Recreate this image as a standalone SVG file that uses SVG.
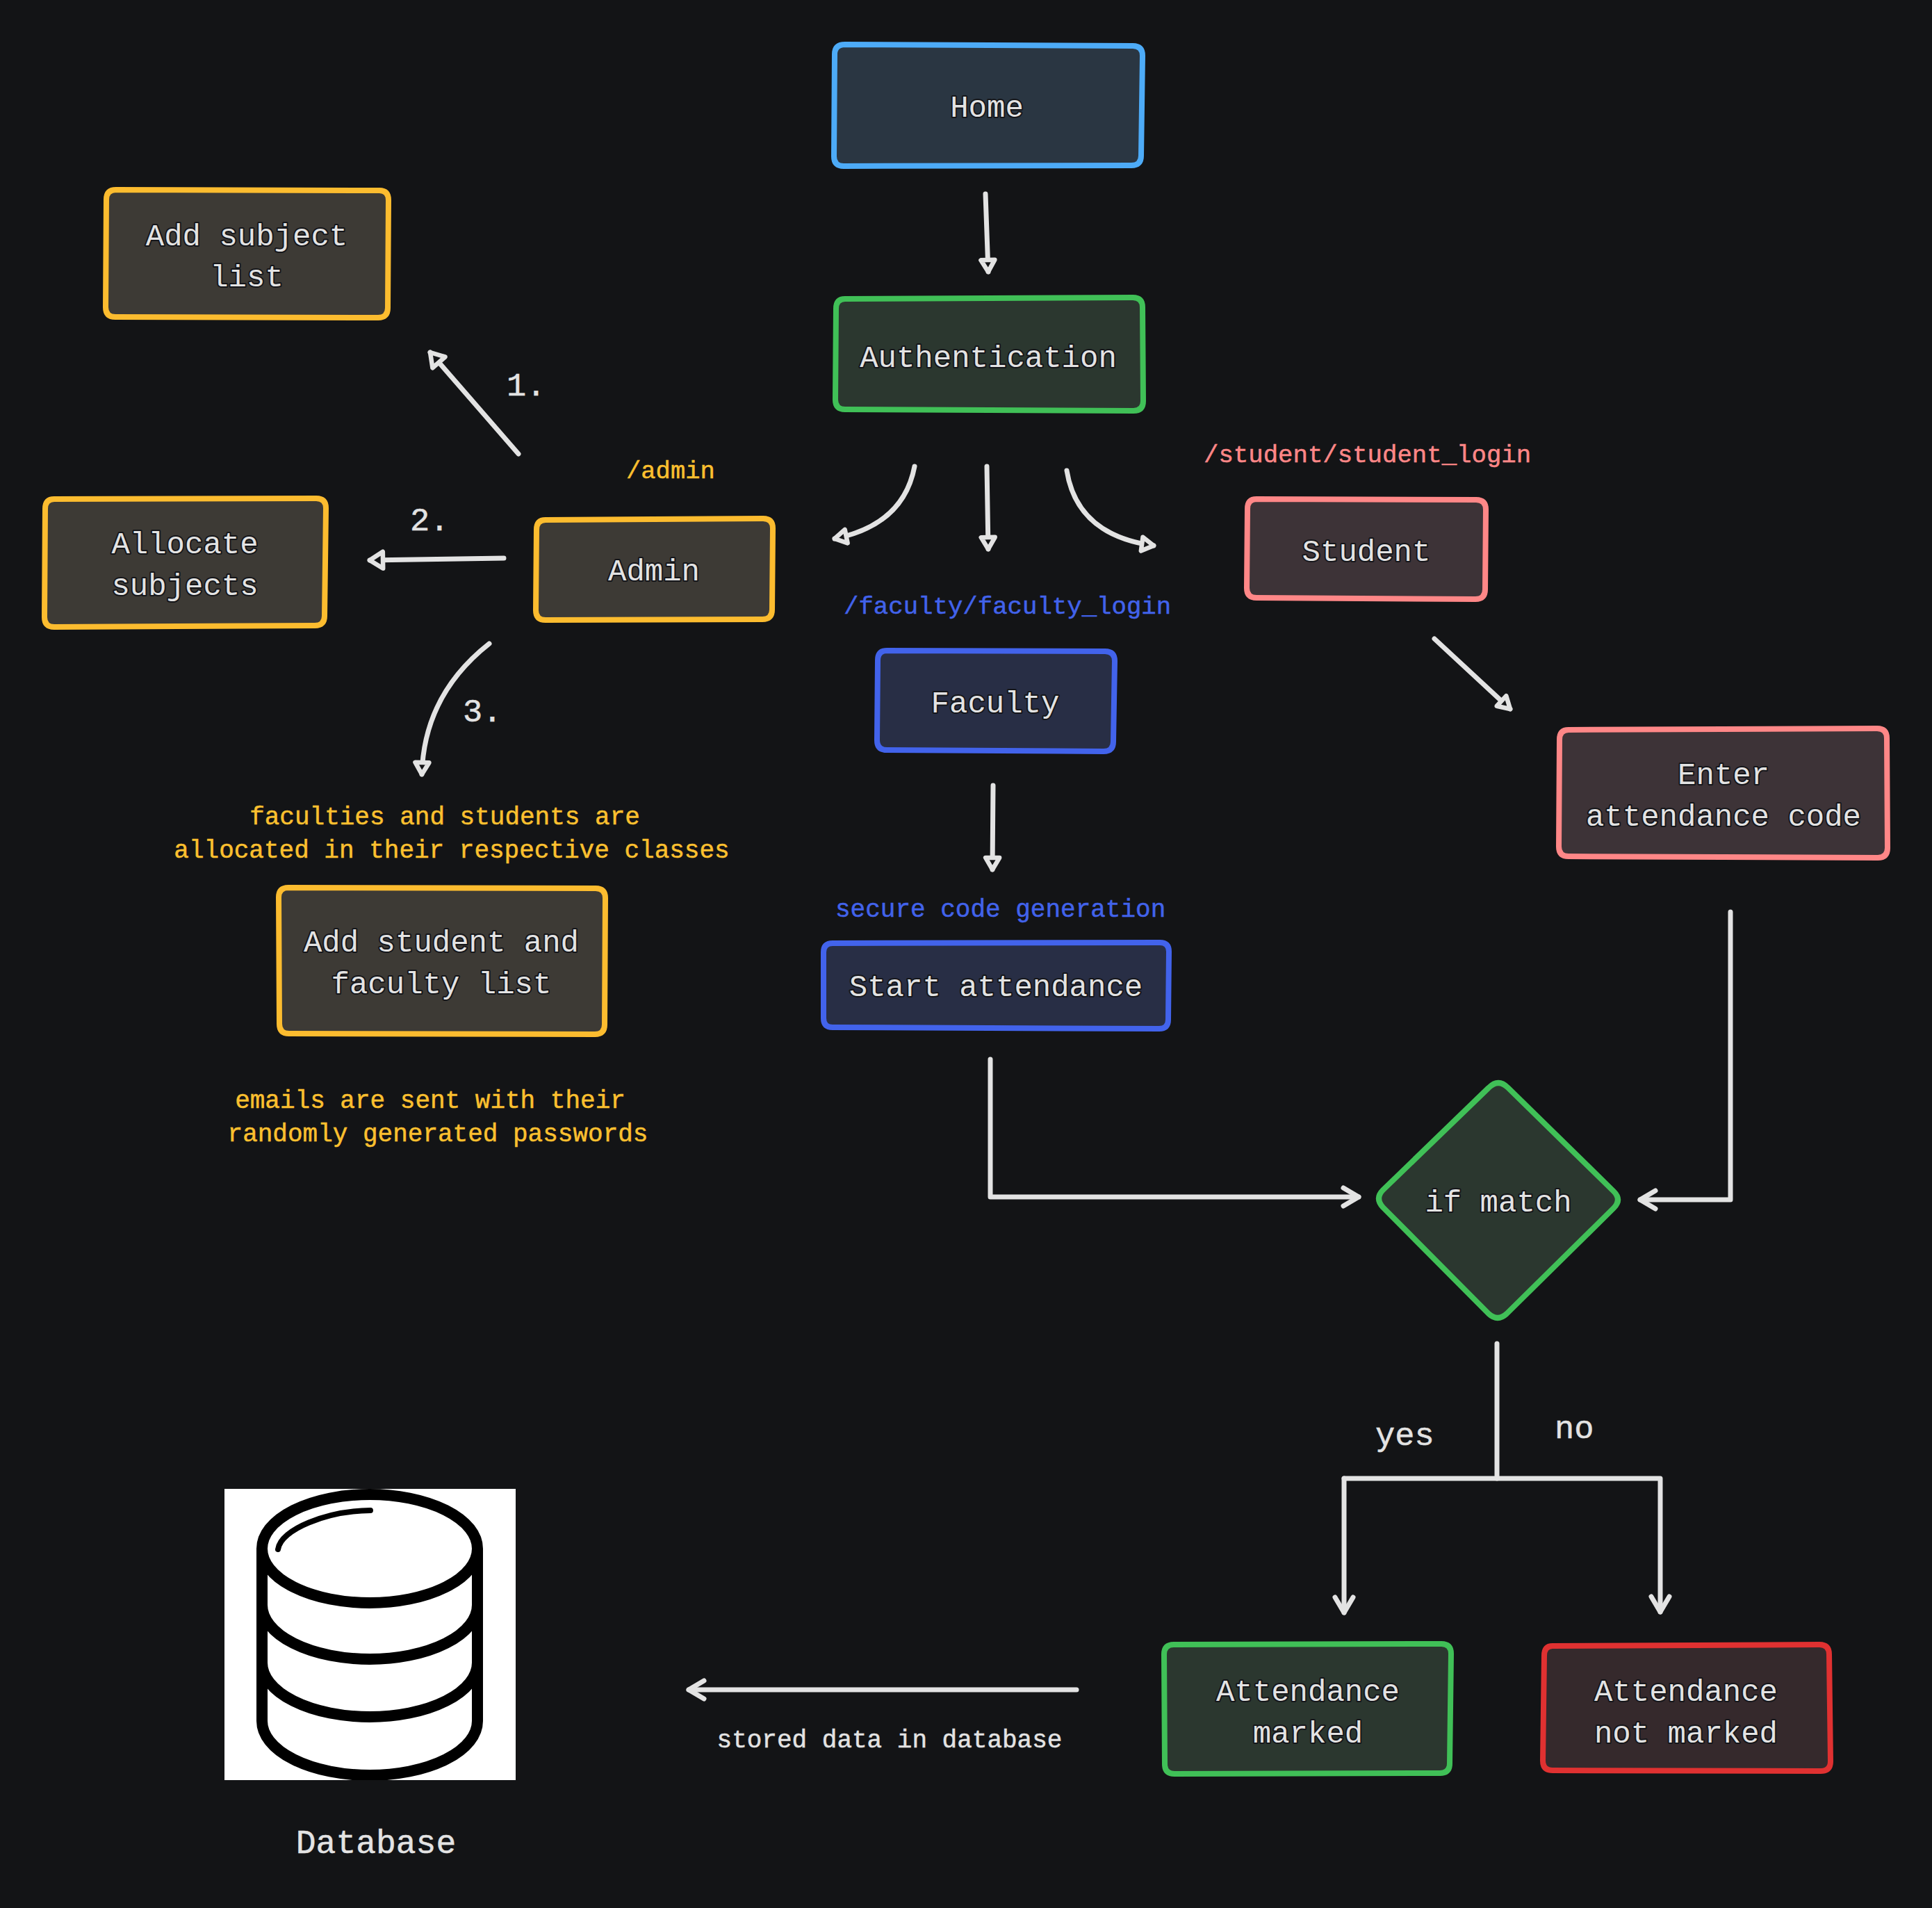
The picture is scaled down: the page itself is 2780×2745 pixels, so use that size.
<svg xmlns="http://www.w3.org/2000/svg" width="2780" height="2745" viewBox="0 0 2780 2745">
<style>
text{font-family:"Liberation Mono","DejaVu Sans Mono",monospace;text-anchor:middle}
.l{font-size:44px;fill:#e3e3e3;stroke:#15161a;stroke-width:4px;paint-order:stroke;stroke-linejoin:round}
.p{font-size:47px;fill:#e3e3e3;stroke:#e3e3e3;stroke-width:.5px}
.s{font-size:36px;stroke-width:.5px}
.y{fill:#fcc02f;stroke:#fcc02f}.k{fill:#ff8787;stroke:#ff8787}.b{fill:#4263eb;stroke:#4263eb}.w{fill:#e3e3e3;stroke:#e3e3e3}
.st{text-anchor:start}
.n{stroke-width:8px;stroke-linejoin:round}
.blue{stroke:#4dabf7;fill:#2a3642}
.green{stroke:#40c057;fill:#2b372f}
.yel{stroke:#fcbc2f;fill:#3d3a35}
.pink{stroke:#ff8787;fill:#3d3337}
.ind{stroke:#4263eb;fill:#282e45}
.red{stroke:#e03131;fill:#35292c}
.c{fill:none;stroke:#e3e3e3;stroke-width:7px;stroke-linecap:round;stroke-linejoin:round}
.t{marker-end:url(#tri)}.a{marker-end:url(#chev)}.T{marker-end:url(#big)}
.db{fill:none;stroke:#000;stroke-width:16px}
</style>
<defs>
<marker id="tri" markerUnits="userSpaceOnUse" markerWidth="50" markerHeight="50" refX="36" refY="25" orient="auto"><path d="M19,15 L36,25 L19,35 Z" fill="#131416" stroke="#e3e3e3" stroke-width="6.5" stroke-linejoin="round"/></marker>
<marker id="big" markerUnits="userSpaceOnUse" markerWidth="50" markerHeight="50" refX="36" refY="25" orient="auto"><path d="M17,13 L36,25 L17,37 Z" fill="#131416" stroke="#e3e3e3" stroke-width="6.5" stroke-linejoin="round"/></marker>
<marker id="chev" markerUnits="userSpaceOnUse" markerWidth="50" markerHeight="50" refX="36" refY="25" orient="auto"><path d="M14,12 L36,25 L14,38" fill="none" stroke="#e3e3e3" stroke-width="7" stroke-linecap="round" stroke-linejoin="round"/></marker>
</defs>
<rect width="2780" height="2745" fill="#131416"/>
<g id="connectors">
<path class="c t" d="M1418,279 L1422,391"/>
<path class="c t" d="M1316,671 Q1300,755 1201,775"/>
<path class="c t" d="M1420,671 L1422,790"/>
<path class="c t" d="M1535,677 Q1550,770 1660,785"/>
<path class="c T" d="M746,653 L619,507"/>
<path class="c T" d="M725,803 L532,806"/>
<path class="c t" d="M704,926 Q610,1000 607,1114"/>
<path class="c t" d="M2064,919 L2173,1020"/>
<path class="c t" d="M1429,1130 L1428,1251"/>
<path class="c a" d="M1425,1524 L1425,1722 L1955,1722"/>
<path class="c a" d="M2490,1312 L2490,1726 L2360,1726"/>
<path class="c" d="M2154,1933 L2154,2127"/>
<path class="c a" d="M1934,2127 L1934,2320"/>
<path class="c a" d="M1934,2127 L2389,2127 L2389,2319"/>
<path class="c a" d="M1549,2431 L991,2431"/>
</g>
<g id="home"><path class="n blue" d="M1216,64 L1630,66 Q1644,66 1644,80 L1642,224 Q1642,238 1628,238 L1214,239 Q1200,239 1200,225 L1201,78 Q1201,64 1216,64 Z"/><text class="l" x="1420" y="168">Home</text></g>
<g id="authentication"><path class="n green" d="M1216,430 L1630,428 Q1644,428 1644,442 L1645,577 Q1645,591 1631,591 L1216,589 Q1202,589 1202,575 L1203,444 Q1203,430 1216,430 Z"/><text class="l" x="1422" y="528">Authentication</text></g>
<g id="add-subject"><path class="n yel" d="M167,273 L546,274 Q559,274 559,288 L558,443 Q558,457 544,457 L166,456 Q152,456 152,442 L153,287 Q153,273 167,273 Z"/><text class="l" x="355" y="353">Add subject</text><text class="l" x="355" y="412">list</text></g>
<g id="allocate"><path class="n yel" d="M78,718 L455,717 Q469,717 469,731 L467,886 Q467,900 453,900 L78,902 Q64,902 64,888 L65,732 Q65,718 78,718 Z"/><text class="l" x="266" y="796">Allocate</text><text class="l" x="266" y="856">subjects</text></g>
<g id="admin"><path class="n yel" d="M785,748 L1098,746 Q1112,746 1112,760 L1111,877 Q1111,891 1097,891 L785,892 Q771,892 771,878 L772,762 Q772,748 785,748 Z"/><text class="l" x="941" y="835">Admin</text></g>
<g id="student"><path class="n pink" d="M1808,718 L2124,719 Q2138,719 2138,733 L2137,848 Q2137,862 2123,862 L1808,860 Q1794,860 1794,846 L1795,732 Q1795,718 1808,718 Z"/><text class="l" x="1966" y="807">Student</text></g>
<g id="faculty"><path class="n ind" d="M1276,936 L1590,937 Q1604,937 1604,951 L1602,1067 Q1602,1081 1588,1081 L1276,1079 Q1262,1079 1262,1065 L1263,950 Q1263,936 1276,936 Z"/><text class="l" x="1432" y="1025">Faculty</text></g>
<g id="start-attendance"><path class="n ind" d="M1198,1357 L1669,1356 Q1682,1356 1682,1369 L1681,1467 Q1681,1480 1668,1480 L1198,1478 Q1185,1478 1185,1465 L1185,1370 Q1185,1357 1198,1357 Z"/><text class="l" x="1433" y="1433">Start attendance</text></g>
<g id="add-student"><path class="n yel" d="M415,1277 L857,1278 Q871,1278 871,1292 L870,1474 Q870,1488 856,1488 L416,1487 Q402,1487 402,1473 L401,1291 Q401,1277 415,1277 Z"/><text class="l" x="635" y="1369">Add student and</text><text class="l" x="635" y="1429">faculty list</text></g>
<g id="enter-code"><path class="n pink" d="M2257,1050 L2701,1048 Q2715,1048 2715,1062 L2716,1220 Q2716,1234 2702,1234 L2257,1232 Q2243,1232 2243,1218 L2244,1064 Q2244,1050 2257,1050 Z"/><text class="l" x="2480" y="1128">Enter</text><text class="l" x="2480" y="1188">attendance code</text></g>
<g id="if-match"><path class="n green" d="M2142,1565 Q2156,1551 2170,1565 L2322,1714 Q2334,1726 2322,1738 L2168,1890 Q2155,1902 2142,1890 L1990,1737 Q1978,1724 1990,1712 Z"/><text class="l" x="2156" y="1743">if match</text></g>
<g id="attendance-marked"><path class="n green" d="M1689,2366 L2074,2365 Q2088,2365 2088,2379 L2086,2537 Q2086,2551 2072,2551 L1690,2552 Q1676,2552 1676,2538 L1675,2380 Q1675,2366 1689,2366 Z"/><text class="l" x="1882" y="2447">Attendance</text><text class="l" x="1882" y="2507">marked</text></g>
<g id="attendance-not-marked"><path class="n red" d="M2234,2368 L2618,2366 Q2632,2366 2632,2380 L2634,2534 Q2634,2548 2620,2548 L2234,2547 Q2220,2547 2220,2533 L2222,2382 Q2222,2368 2234,2368 Z"/><text class="l" x="2426" y="2447">Attendance</text><text class="l" x="2426" y="2507">not marked</text></g>
<g id="database">
<rect x="323" y="2142" width="419" height="419" fill="#fff"/>
<clipPath id="dbc"><rect x="323" y="2142" width="419" height="419"/></clipPath>
<g clip-path="url(#dbc)">
<ellipse class="db" cx="532" cy="2228" rx="155" ry="78"/>
<path class="db" d="M377,2228 L377,2476 A155,78 0 0 0 687,2476 L687,2228"/>
<path class="db" d="M377,2309 A155,78 0 0 0 687,2309"/>
<path class="db" d="M377,2392 A155,78 0 0 0 687,2392"/>
<path d="M400,2229 C404,2200 470,2174 533,2173" fill="none" stroke="#000" stroke-width="8" stroke-linecap="round"/>
</g>
<text class="w" x="541" y="2666" style="font-size:48px;stroke-width:.5px">Database</text>
</g>
<g id="labels">
<text class="s y st" x="901" y="688" style="font-size:35.5px">/admin</text>
<text class="s k st" x="1732" y="665" style="font-size:35.7px">/student/student_login</text>
<text class="s b st" x="1214" y="883" style="font-size:35.7px">/faculty/faculty_login</text>
<text class="s b st" x="1202" y="1319">secure code generation</text>
<text class="s y" x="640" y="1186">faculties and students are</text>
<text class="s y" x="650" y="1234">allocated in their respective classes</text>
<text class="s y" x="619" y="1594">emails are sent with their</text>
<text class="s y" x="630" y="1642">randomly generated passwords</text>
<text class="s w" x="1280" y="2514">stored data in database</text>
<text class="p st" x="729" y="569">1.</text>
<text class="p st" x="590" y="763">2.</text>
<text class="p st" x="666" y="1038">3.</text>
<text class="p st" x="1979" y="2079">yes</text>
<text class="p st" x="2237" y="2069">no</text>
</g>
</svg>
